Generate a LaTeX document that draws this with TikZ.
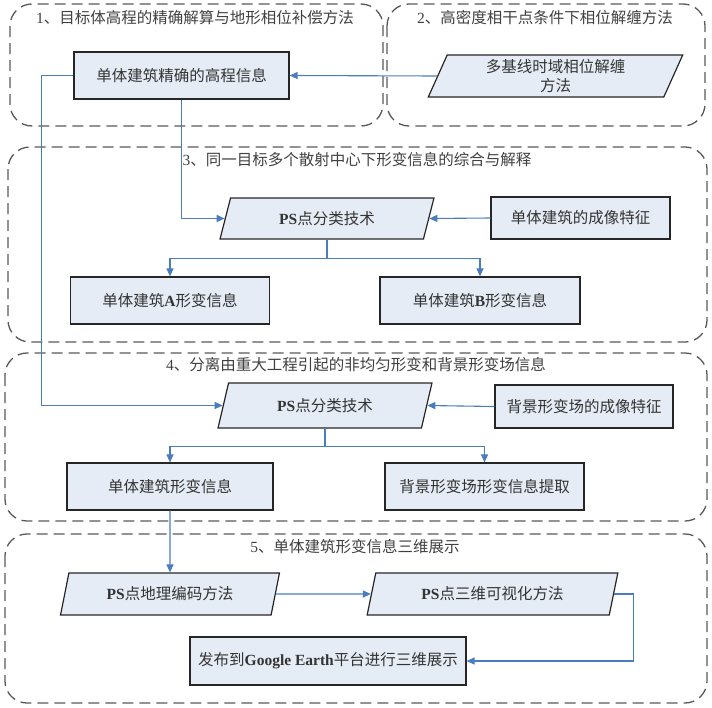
\documentclass[tikz,border=0pt]{standalone}
\usepackage{fontspec}
\setmainfont{Noto Sans CJK SC}
\newfontfamily\latfont{Liberation Serif}
\usetikzlibrary{shapes.geometric,arrows.meta}
\newcommand{\lat}[1]{{\latfont\bfseries #1}}
\definecolor{boxfill}{HTML}{E6ECF5}
\definecolor{linkblue}{HTML}{4A7CC0}
\definecolor{framegray}{HTML}{595959}

\begin{document}
\begin{tikzpicture}[x=1pt,y=-1pt,
  font=\fontsize{15.5}{19}\selectfont,
  rbox/.style={draw=black!85,line width=1.2pt,fill=boxfill,text=black!80,inner sep=0pt,align=center},
  pbox/.style={rbox,trapezium,trapezium left angle=70,trapezium right angle=110,trapezium stretches=true},
  stagebox/.style={draw=framegray,line width=1.3pt,dash pattern=on 11pt off 6pt,rounded corners=22pt},
  stagetitle/.style={text=black!75},
  link/.style={draw=linkblue,line width=1.1pt,-{Triangle[length=8pt,width=7pt]}}]
\useasboundingbox (0,0) rectangle (712,707);

% dashed stages
\draw[stagebox] (10,4) rectangle (383,126);
\draw[stagebox] (387,4) rectangle (705,126);
\draw[stagebox] (8,147) rectangle (707,342);
\draw[stagebox] (5,353) rectangle (707,521);
\draw[stagebox] (5,534) rectangle (707,703);
\node[stagetitle] (t1) at (195,18) {{\latfont 1}、目标体高程的精确解算与地形相位补偿方法};
\node[stagetitle] (t2) at (545,18) {{\latfont 2}、高密度相干点条件下相位解缠方法};
\node[stagetitle] (t3) at (357,160) {{\latfont 3}、同一目标多个散射中心下形变信息的综合与解释};
\node[stagetitle] (t4) at (356,365) {{\latfont 4}、分离由重大工程引起的非均匀形变和背景形变场信息};
\node[stagetitle] (t5) at (355,547) {{\latfont 5}、单体建筑形变信息三维展示};

% stage 1 and 2
\node[rbox,minimum width=215,minimum height=47] (height) at (181.5,75.5) {单体建筑精确的高程信息};
\node[pbox,minimum width=255,minimum height=42] (unwrap) at (555.5,76) {多基线时域相位解缠\\方法};

% stage 3
\node[pbox,minimum width=214,minimum height=41] (ps3) at (327,218.5) {\lat{PS}点分类技术};
\node[rbox,minimum width=179,minimum height=42] (img3) at (580.5,218) {单体建筑的成像特征};
\node[rbox,minimum width=199,minimum height=47] (defa) at (170,300.5) {单体建筑\lat{A}形变信息};
\node[rbox,minimum width=200,minimum height=47] (defb) at (480,300.5) {单体建筑\lat{B}形变信息};

% stage 4
\node[pbox,minimum width=214,minimum height=45] (ps4) at (325,405.5) {\lat{PS}点分类技术};
\node[rbox,minimum width=178,minimum height=43] (img4) at (584,406.5) {背景形变场的成像特征};
\node[rbox,minimum width=206,minimum height=47] (single) at (170,486.5) {单体建筑形变信息};
\node[rbox,minimum width=199,minimum height=47] (field) at (484.5,486.5) {背景形变场形变信息提取};

% stage 5
\node[pbox,minimum width=219,minimum height=42] (geo) at (170,594) {\lat{PS}点地理编码方法};
\node[pbox,minimum width=251,minimum height=42] (vis) at (492.5,594) {\lat{PS}点三维可视化方法};
\node[rbox,minimum width=276,minimum height=48] (earth) at (328,661) {发布到\lat{Google Earth}平台进行三维展示};

% connectors
\draw[link] (unwrap.west) -- (height.east);
\draw[link] (height.west) -- ++(-32,0) |- (ps4.west);
\draw[link] (height.south) |- (ps3.west);
\draw[link] (img3.west) -- (ps3.east);
\draw[link] (ps3.south) -- ++(0,19) -| (defa.north);
\draw[link] (ps3.south) -- ++(0,19) -| (defb.north);
\draw[link] (img4.west) -- (ps4.east);
\draw[link] (ps4.south) -- ++(0,18) -| (single.north);
\draw[link] (ps4.south) -- ++(0,18) -| (field.north);
\draw[link] (single.south) -- (geo.north);
\draw[link] (geo.east) -- (vis.west);
\draw[link] (vis.east) -- ++(19,0) |- (earth.east);
\end{tikzpicture}
\end{document}
